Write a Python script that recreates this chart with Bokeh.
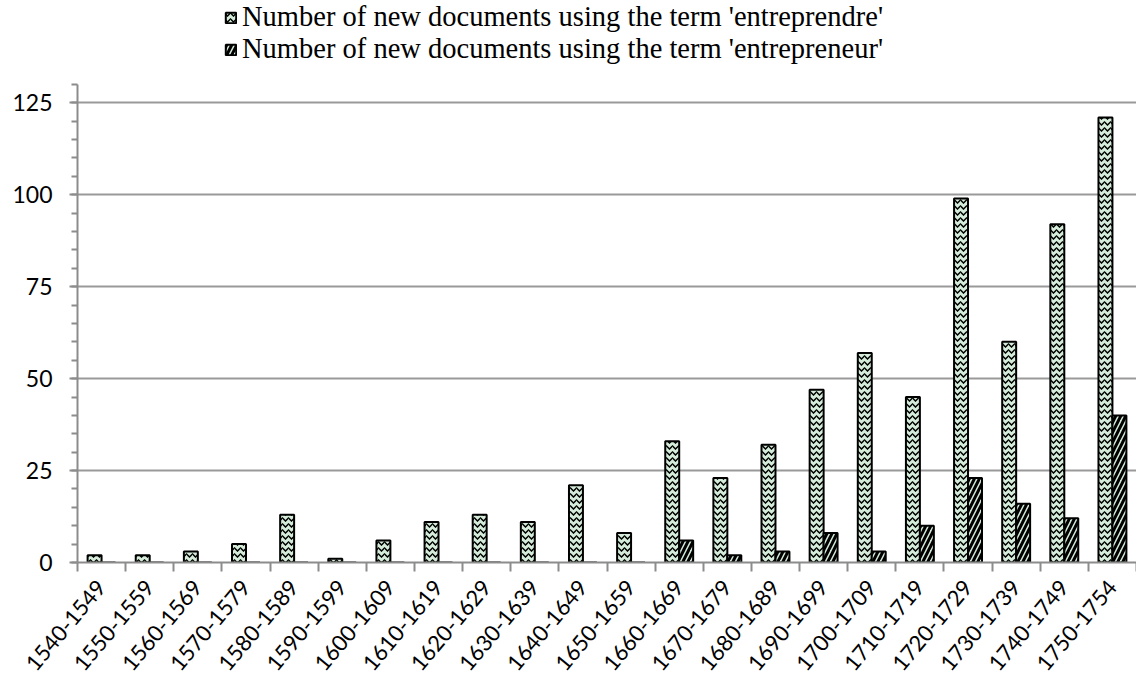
import numpy as np
from bokeh.plotting import figure
from bokeh.models import ColumnDataSource, FixedTicker, Legend, LegendItem, Range1d
from bokeh.embed import file_html
from bokeh.resources import INLINE

categories = ["1540-1549", "1550-1559", "1560-1569", "1570-1579", "1580-1589",
              "1590-1599", "1600-1609", "1610-1619", "1620-1629", "1630-1639",
              "1640-1649", "1650-1659", "1660-1669", "1670-1679", "1680-1689",
              "1690-1699", "1700-1709", "1710-1719", "1720-1729", "1730-1739",
              "1740-1749", "1750-1754"]
entreprendre = [2, 2, 3, 5, 13, 1, 6, 11, 13, 11, 21, 8, 33, 23, 32, 47, 57, 45, 99, 60, 92, 121]
entrepreneur = [0, 0, 0, 0, 0, 0, 0, 0, 0, 0, 0, 0, 6, 2, 3, 8, 3, 10, 23, 16, 12, 40]
y_ticks = [0, 25, 50, 75, 100, 125]
y_axis_end = 130
label1 = "Number of new documents using the term 'entreprendre'"
label2 = "Number of new documents using the term 'entrepreneur'"

n = len(categories)
idx = np.arange(n)
centers = idx + 0.5
bw = 0.29
src = ColumnDataSource(dict(x1=centers - bw / 2, x2=centers + bw / 2,
                            a=entreprendre, b=entrepreneur))

W, H = 1136, 680
bottom, left = 117, 77
frame_h = H - bottom
px_per_unit = 460.5 / 125
p = figure(width=W, height=H, output_backend="svg", toolbar_location=None,
           x_range=Range1d(0, n), y_range=Range1d(0, frame_h / px_per_unit),
           min_border_left=left, min_border_right=0, min_border_top=0,
           min_border_bottom=bottom)
p.outline_line_color = None
p.background_fill_color = "white"
p.border_fill_color = "white"

fill = "#d4ecd9"
r1 = p.vbar(x="x1", top="a", width=bw, source=src, fill_color=fill,
            line_color="black", line_width=2, hatch_pattern="horizontal_wave",
            hatch_color="black", hatch_scale=6, hatch_weight=1.5)
r2 = p.vbar(x="x2", top="b", width=bw, source=src, fill_color=fill,
            line_color="black", line_width=2, hatch_pattern="right_diagonal_line",
            hatch_color="black", hatch_scale=10, hatch_weight=3)

# x axis
p.xaxis.ticker = FixedTicker(ticks=list(centers), minor_ticks=list(idx) + [n])
p.xaxis.major_label_overrides = {float(c): lab for c, lab in zip(centers, categories)}
p.xaxis.major_tick_out = 0
p.xaxis.major_tick_in = 0
p.xaxis.minor_tick_out = 9
p.xaxis.minor_tick_in = 0
p.xaxis.minor_tick_line_color = "#8c8c8c"
p.xaxis.minor_tick_line_width = 2
p.xaxis.axis_line_color = "#8c8c8c"
p.xaxis.axis_line_width = 2
p.xaxis.major_label_orientation = 0.87
p.xaxis.major_label_text_font = "Lato"
p.xaxis.major_label_text_font_size = "22px"
p.xaxis.major_label_text_color = "black"
p.xaxis.major_label_standoff = 12

# y axis
p.yaxis.bounds = (0, y_axis_end)
p.yaxis.ticker = FixedTicker(ticks=y_ticks, minor_ticks=list(range(0, y_axis_end + 1, 5)))
p.yaxis.major_tick_out = 8
p.yaxis.major_tick_in = 0
p.yaxis.minor_tick_out = 6
p.yaxis.minor_tick_in = 0
p.yaxis.major_tick_line_color = "#8c8c8c"
p.yaxis.minor_tick_line_color = "#8c8c8c"
p.yaxis.major_tick_line_width = 2
p.yaxis.minor_tick_line_width = 2
p.yaxis.axis_line_color = "#8c8c8c"
p.yaxis.axis_line_width = 2
p.yaxis.major_label_text_font = "Lato"
p.yaxis.major_label_text_font_size = "23px"
p.yaxis.major_label_text_color = "black"
p.yaxis.major_label_standoff = 17

p.xgrid.grid_line_color = None
p.ygrid.grid_line_color = "#999999"
p.ygrid.grid_line_width = 2

legend = Legend(items=[LegendItem(label=label1, renderers=[r1]),
                       LegendItem(label=label2, renderers=[r2])],
                orientation="vertical", location=(147, frame_h - 66))
legend.label_text_font = "Liberation Serif"
legend.label_text_font_size = "28.5px"
legend.label_text_color = "black"
legend.label_height = 28
legend.glyph_width = 13
legend.glyph_height = 13
legend.label_standoff = 5
legend.spacing = 0
legend.padding = 2
legend.margin = 0
legend.border_line_color = None
legend.background_fill_alpha = 0
p.add_layout(legend, "center")

open("out.html", "w").write(file_html(p, INLINE))
